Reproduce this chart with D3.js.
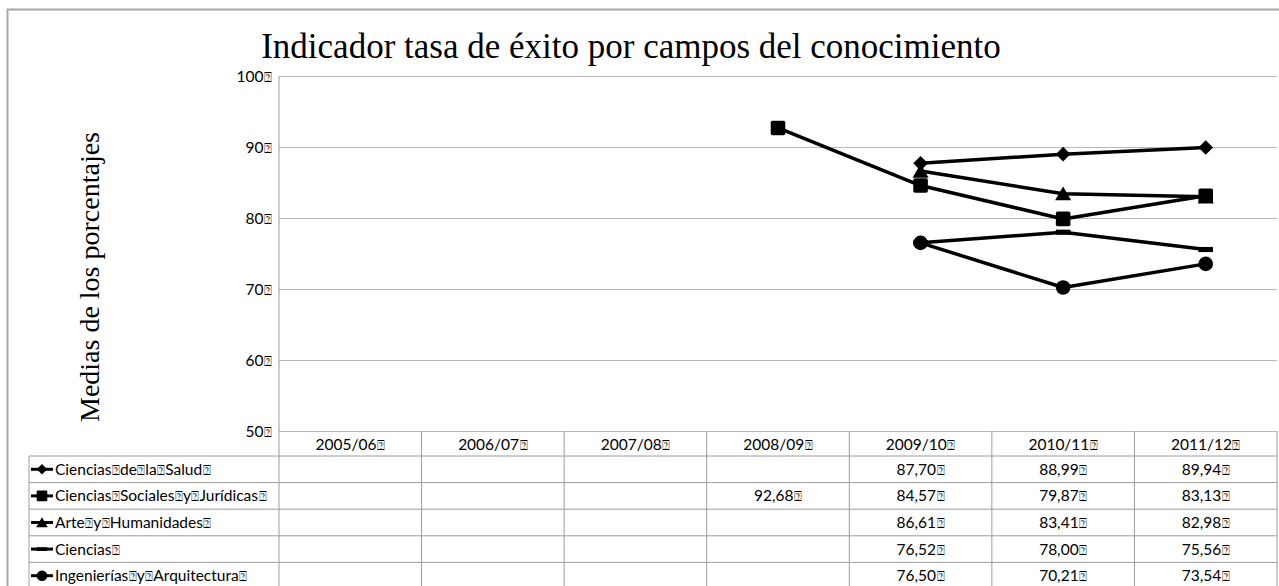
<!DOCTYPE html>
<html>
<head>
<meta charset="utf-8">
<script src="https://cdn.jsdelivr.net/npm/d3@7/dist/d3.min.js"></script>
<style>
  body { margin: 0; background: #fff; }
  svg { display: block; }
  .lbl { font-family: Lato, "Open Sans", sans-serif; font-size: 15.5px; fill: #000; }
  .box { font-family: "DejaVu Sans", sans-serif; font-size: 13px; }
</style>
</head>
<body>
<div id="chart"></div>
<script>
// data
const title = "Indicador tasa de éxito por campos del conocimiento";
const yTitle = "Medias de los porcentajes";
const years = ["2005/06", "2006/07", "2007/08", "2008/09", "2009/10", "2010/11", "2011/12"];
const yTicks = [50, 60, 70, 80, 90, 100];
const seriesNames = ["Ciencias de la Salud", "Ciencias Sociales y Jurídicas", "Arte y Humanidades", "Ciencias", "Ingenierías y Arquitectura"];
const markers = ["diamond", "square", "triangle", "dash", "circle"];
const salud = [null, null, null, null, 87.70, 88.99, 89.94];
const sociales = [null, null, null, 92.68, 84.57, 79.87, 83.13];
const arte = [null, null, null, null, 86.61, 83.41, 82.98];
const ciencias = [null, null, null, null, 76.52, 78.00, 75.56];
const ingenierias = [null, null, null, null, 76.50, 70.21, 73.54];
const values = [salud, sociales, arte, ciencias, ingenierias];

const W = 1279, H = 586;
const plot = { left: 279, right: 1277, top: 76, bottom: 431 };
const rowTop = 456, rowH = 26.6, tableLeft = 29;
const gridColor = "#b9b9b9", tableColor = "#9c9c9c";

const svg = d3.select("#chart").append("svg").attr("width", W).attr("height", H);

// outer chart border
svg.append("rect").attr("x", 7.5).attr("y", 9.5).attr("width", W + 20).attr("height", H + 20)
  .attr("fill", "none").attr("stroke", "#a8a8a8").attr("stroke-width", 2);

const x = d3.scaleBand().domain(years).range([plot.left, plot.right]);
const y = d3.scaleLinear().domain([50, 100]).range([plot.bottom, plot.top]);
const rows = d3.scaleBand().domain(seriesNames).range([rowTop, rowTop + rowH * seriesNames.length]);

// text with the little missing-glyph boxes that stand in for spaces in the original
function boxed(sel, str, trailing) {
  const parts = str.split(" ");
  parts.forEach((p, i) => {
    sel.append("tspan").text(p);
    if (i < parts.length - 1 || trailing) {
      sel.append("tspan").attr("class", "box").attr("dx", 0.5).text("⍰");
    }
  });
}

// gridlines + y axis
const yAxis = d3.axisLeft(y).tickValues(yTicks).tickSize(plot.right - plot.left).tickFormat("");
svg.append("g").attr("transform", `translate(${plot.right},0)`).call(yAxis)
  .call(g => g.select(".domain").remove())
  .call(g => g.selectAll(".tick line").attr("stroke", gridColor).attr("stroke-width", 1));

svg.append("line").attr("x1", plot.left).attr("x2", plot.left)
  .attr("y1", plot.top).attr("y2", H).attr("stroke", tableColor);

svg.append("g").selectAll("text").data(yTicks).join("text")
  .attr("class", "lbl").attr("x", 272).attr("y", d => y(d) + 5.5)
  .attr("text-anchor", "end")
  .each(function (d) { boxed(d3.select(this), String(d), true); });

// titles
svg.append("text").attr("x", 631).attr("y", 58).attr("text-anchor", "middle")
  .style("font-family", "'Liberation Serif', 'Times New Roman', serif").style("font-size", "35px")
  .text(title);
svg.append("text").attr("transform", "translate(99,277) rotate(-90)").attr("text-anchor", "middle")
  .style("font-family", "'Liberation Serif', 'Times New Roman', serif").style("font-size", "28px")
  .text(yTitle);

// series lines
const line = d3.line().defined(d => d.v != null).x(d => x(d.year) + x.bandwidth() / 2).y(d => y(d.v));
const seriesData = seriesNames.map((name, i) => ({
  name, marker: markers[i],
  points: years.map((yr, j) => ({ year: yr, v: values[i][j] }))
}));

function drawMarker(g, type, s) {
  if (type === "diamond") g.append("path").attr("d", `M0,${-s}L${s},0L0,${s}L${-s},0Z`);
  else if (type === "square") g.append("rect").attr("x", -s).attr("y", -s).attr("width", 2 * s).attr("height", 2 * s).attr("rx", s * 0.25);
  else if (type === "triangle") g.append("path").attr("d", `M0,${-s}L${s * 1.1},${s * 0.9}L${-s * 1.1},${s * 0.9}Z`);
  else if (type === "dash") g.append("rect").attr("x", -s).attr("y", -s * 0.35).attr("width", 2 * s).attr("height", s * 0.7);
  else g.append("circle").attr("r", s);
}

const sg = svg.append("g");
seriesData.forEach(s => {
  sg.append("path").datum(s.points).attr("d", line)
    .attr("fill", "none").attr("stroke", "#000").attr("stroke-width", 3.5).attr("stroke-linejoin", "round");
});
seriesData.forEach(s => {
  s.points.filter(p => p.v != null).forEach(p => {
    const m = sg.append("g").attr("transform", `translate(${x(p.year) + x.bandwidth() / 2},${y(p.v)})`).attr("fill", "#000");
    drawMarker(m, s.marker, 7.3);
  });
});

// data table
const tg = svg.append("g");
const tableBottom = rowTop + rowH * seriesNames.length;
x.domain().forEach(yr => {
  tg.append("line").attr("x1", x(yr) + x.bandwidth()).attr("x2", x(yr) + x.bandwidth())
    .attr("y1", plot.bottom).attr("y2", tableBottom).attr("stroke", tableColor);
});
tg.append("line").attr("x1", tableLeft).attr("x2", tableLeft).attr("y1", rowTop).attr("y2", tableBottom).attr("stroke", tableColor);
[rowTop].concat(seriesNames.map(n => rows(n) + rows.bandwidth())).forEach(yy => {
  tg.append("line").attr("x1", tableLeft).attr("x2", plot.right).attr("y1", yy).attr("y2", yy).attr("stroke", tableColor);
});

tg.selectAll("text.year").data(years).join("text").attr("class", "lbl year")
  .attr("x", d => x(d) + x.bandwidth() / 2).attr("y", plot.bottom + 19).attr("text-anchor", "middle")
  .each(function (d) { boxed(d3.select(this), d, true); });

seriesData.forEach(s => {
  const cy = rows(s.name) + rows.bandwidth() / 2;
  const k = tg.append("g");
  k.append("line").attr("x1", 31).attr("x2", 53).attr("y1", cy).attr("y2", cy).attr("stroke", "#000").attr("stroke-width", 3);
  drawMarker(k.append("g").attr("transform", `translate(42,${cy})`).attr("fill", "#000"), s.marker, 5.3);
  boxed(tg.append("text").attr("class", "lbl").attr("x", 55).attr("y", cy + 5.5), s.name, true);
  s.points.filter(p => p.v != null).forEach(p => {
    boxed(tg.append("text").attr("class", "lbl").attr("x", x(p.year) + x.bandwidth() / 2).attr("y", cy + 5.5)
      .attr("text-anchor", "middle"), d3.format(".2f")(p.v).replace(".", ","), true);
  });
});
</script>
</body>
</html>
